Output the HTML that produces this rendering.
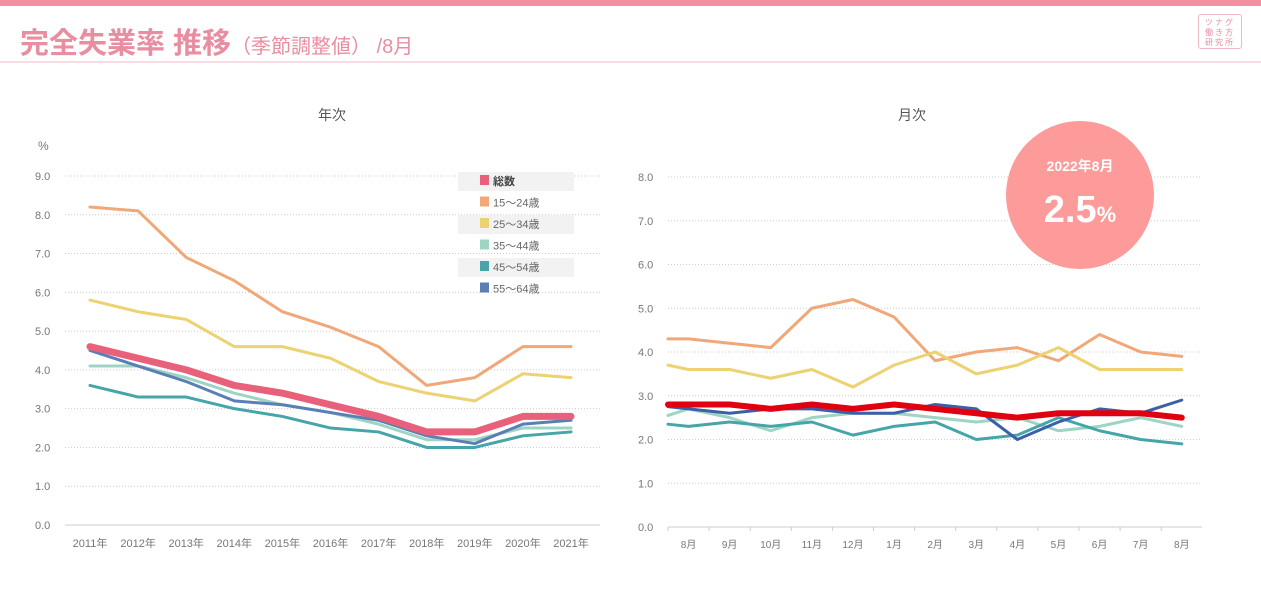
<!DOCTYPE html>
<html><head><meta charset="utf-8">
<style>
body{margin:0;width:1261px;height:599px;background:#fff;overflow:hidden;font-family:"Liberation Sans","Noto Sans CJK JP",sans-serif;position:relative}
.abs{position:absolute}
</style></head><body>
<div class="abs" style="left:0;top:0;width:1261px;height:6px;background:#f28fa0"></div>
<div class="abs" style="left:20px;top:20px;font-size:29px;font-weight:bold;color:#e88ea0;white-space:nowrap;font-family:'Liberation Sans','Noto Sans CJK JP',sans-serif">完全失業率 推移<span style="font-size:20px;font-weight:normal">（季節調整値） /8月</span></div>
<div class="abs" style="left:0;top:61px;width:1261px;height:2px;background:#f8dde3"></div>
<div class="abs" style="left:1198px;top:14px;width:44px;height:35px;border:1px solid #f0b8c4;border-radius:3px;font-size:8px;line-height:10px;color:#e88ea0;text-align:center;padding-top:3px;box-sizing:border-box;letter-spacing:2px">ツナグ<br>働き方<br>研究所</div>
<svg id="chart" class="abs" style="left:0;top:0" width="1261" height="599"></svg>
<script>
const years=["2011年","2012年","2013年","2014年","2015年","2016年","2017年","2018年","2019年","2020年","2021年"];
const yTotal=[4.6,4.3,4.0,3.6,3.4,3.1,2.8,2.4,2.4,2.8,2.8];
const y1524=[8.2,8.1,6.9,6.3,5.5,5.1,4.6,3.6,3.8,4.6,4.6];
const y2534=[5.8,5.5,5.3,4.6,4.6,4.3,3.7,3.4,3.2,3.9,3.8];
const y3544=[4.1,4.1,3.8,3.4,3.1,2.9,2.6,2.2,2.2,2.5,2.5];
const y4554=[3.6,3.3,3.3,3.0,2.8,2.5,2.4,2.0,2.0,2.3,2.4];
const y5564=[4.5,4.1,3.7,3.2,3.1,2.9,2.7,2.3,2.1,2.6,2.7];
const yTicks=["0.0","1.0","2.0","3.0","4.0","5.0","6.0","7.0","8.0","9.0"];
const months=["8月","9月","10月","11月","12月","1月","2月","3月","4月","5月","6月","7月","8月"];
const mTotal=[2.8,2.8,2.8,2.7,2.8,2.7,2.8,2.7,2.6,2.5,2.6,2.6,2.6,2.5];
const m1524=[4.3,4.3,4.2,4.1,5.0,5.2,4.8,3.8,4.0,4.1,3.8,4.4,4.0,3.9];
const m2534=[3.7,3.6,3.6,3.4,3.6,3.2,3.7,4.0,3.5,3.7,4.1,3.6,3.6,3.6];
const m3544=[2.55,2.7,2.5,2.2,2.5,2.6,2.6,2.5,2.4,2.5,2.2,2.3,2.5,2.3];
const m4554=[2.35,2.3,2.4,2.3,2.4,2.1,2.3,2.4,2.0,2.1,2.5,2.2,2.0,1.9];
const m5564=[2.75,2.7,2.6,2.7,2.7,2.6,2.6,2.8,2.7,2.0,2.4,2.7,2.6,2.9];
const mTicks=["0.0","1.0","2.0","3.0","4.0","5.0","6.0","7.0","8.0"];
const legendLabels=["総数","15〜24歳","25〜34歳","35〜44歳","45〜54歳","55〜64歳"];
const NS="http://www.w3.org/2000/svg";
const svg=document.getElementById('chart');
function mk(t,a,p){const e=document.createElementNS(NS,t);for(const k in a)e.setAttribute(k,a[k]);(p||svg).appendChild(e);return e;}
function txt(x,y,s,a){const e=mk('text',Object.assign({x:x,y:y,'font-size':11,fill:'#777','font-family':'Liberation Sans, Noto Sans CJK JP, sans-serif'},a||{}));e.textContent=s;return e;}
// yearly
const ay={l:65,r:600,y0:525,y9:176};
const yY=v=>ay.y0-(ay.y0-ay.y9)*v/9;
const xY=i=>90+i*48.1;
const t1=txt(332,120,"年次",{'font-size':14,fill:'#555','text-anchor':'middle'});

const pu=txt(38,150,"%",{'font-size':12});

yTicks.forEach((s,i)=>{const y=yY(i);
 const g=mk('line',{x1:ay.l,x2:ay.r,y1:y,y2:y,stroke:i?'#ccc':'#ccc','stroke-dasharray':i?'1,2':'', 'stroke-width':1});
 
 const t=txt(35,y+4,s);});
years.forEach((s,i)=>{const t=txt(xY(i),547,s,{'text-anchor':'middle','font-size':11});});
function line(data,xf,yf,color,w,name){const p=mk('polyline',{points:data.map((v,i)=>xf(i)+','+yf(v)).join(' '),fill:'none',stroke:color,'stroke-width':w,'stroke-linejoin':'round','stroke-linecap':'round'});
 }
line(y2534,xY,yY,'#ecd270',3,'yearly-line-25-34');
line(y1524,xY,yY,'#f0a878',3,'yearly-line-15-24');
line(y4554,xY,yY,'#45a5a8',3,'yearly-line-45-54');
line(y3544,xY,yY,'#9ed4c4',3,'yearly-line-35-44');
line(y5564,xY,yY,'#5b7fb5',3,'yearly-line-55-64');
line(yTotal,xY,yY,'#e8607a',7,'yearly-line-total');
// legend
const lc=['#e8607a','#f0a878','#ecd270','#9ed4c4','#45a5a8','#5b7fb5'];
legendLabels.forEach((s,i)=>{const y=181+i*21.5;
 if(i%2==0){const bg=mk('rect',{x:458,y:y-9,width:116,height:19,fill:'#f2f2f2'});}
 const r=mk('rect',{x:480,y:y-6,width:9,height:10,fill:lc[i]});
 const t=txt(493,y+4,s,{'font-size':11,fill:i?'#666':'#444','font-weight':i?'normal':'bold'});});
// monthly
const am={l:668,r:1202,y0:527,y8:177};
const yM=v=>am.y0-(am.y0-am.y8)*v/8;
const xM=i=>i===0?am.l:am.l+(i-0.5)*41.1;
const t2=txt(912,120,"月次",{'font-size':14,fill:'#555','text-anchor':'middle'});

mTicks.forEach((s,i)=>{const y=yM(i);
 const g=mk('line',{x1:am.l,x2:am.r,y1:y,y2:y,stroke:'#ccc','stroke-dasharray':i?'1,2':''});
 
 const t=txt(638,y+4,s);});
months.forEach((s,i)=>{const x=xM(i+1);const t=txt(x,548,s,{'text-anchor':'middle','font-size':10});
 const tk=mk('line',{x1:am.l+i*41.1,x2:am.l+i*41.1,y1:am.y0,y2:am.y0+4,stroke:'#ccc'});});
line(m1524,xM,yM,'#f0a878',3,'monthly-line-15-24');
line(m2534,xM,yM,'#ecd270',3,'monthly-line-25-34');
line(m3544,xM,yM,'#9ed4c4',3,'monthly-line-35-44');
line(m4554,xM,yM,'#45a5a8',3,'monthly-line-45-54');
line(m5564,xM,yM,'#3d5fa8',3,'monthly-line-55-64');
line(mTotal,xM,yM,'#e00010',6,'monthly-line-total');
// badge
const c=mk('circle',{cx:1080,cy:195,r:74,fill:'#fd9a9a'});
const b1=txt(1080,171,"2022年8月",{'font-size':14,fill:'#fff','text-anchor':'middle','font-weight':'bold'});
const b2=mk('text',{x:1080,y:222,'font-size':38,fill:'#fff','text-anchor':'middle','font-weight':'bold','font-family':'Liberation Sans Narrow, Liberation Sans, sans-serif'});
b2.innerHTML='2.5<tspan font-size="22">%</tspan>';
</script>
</body></html>
